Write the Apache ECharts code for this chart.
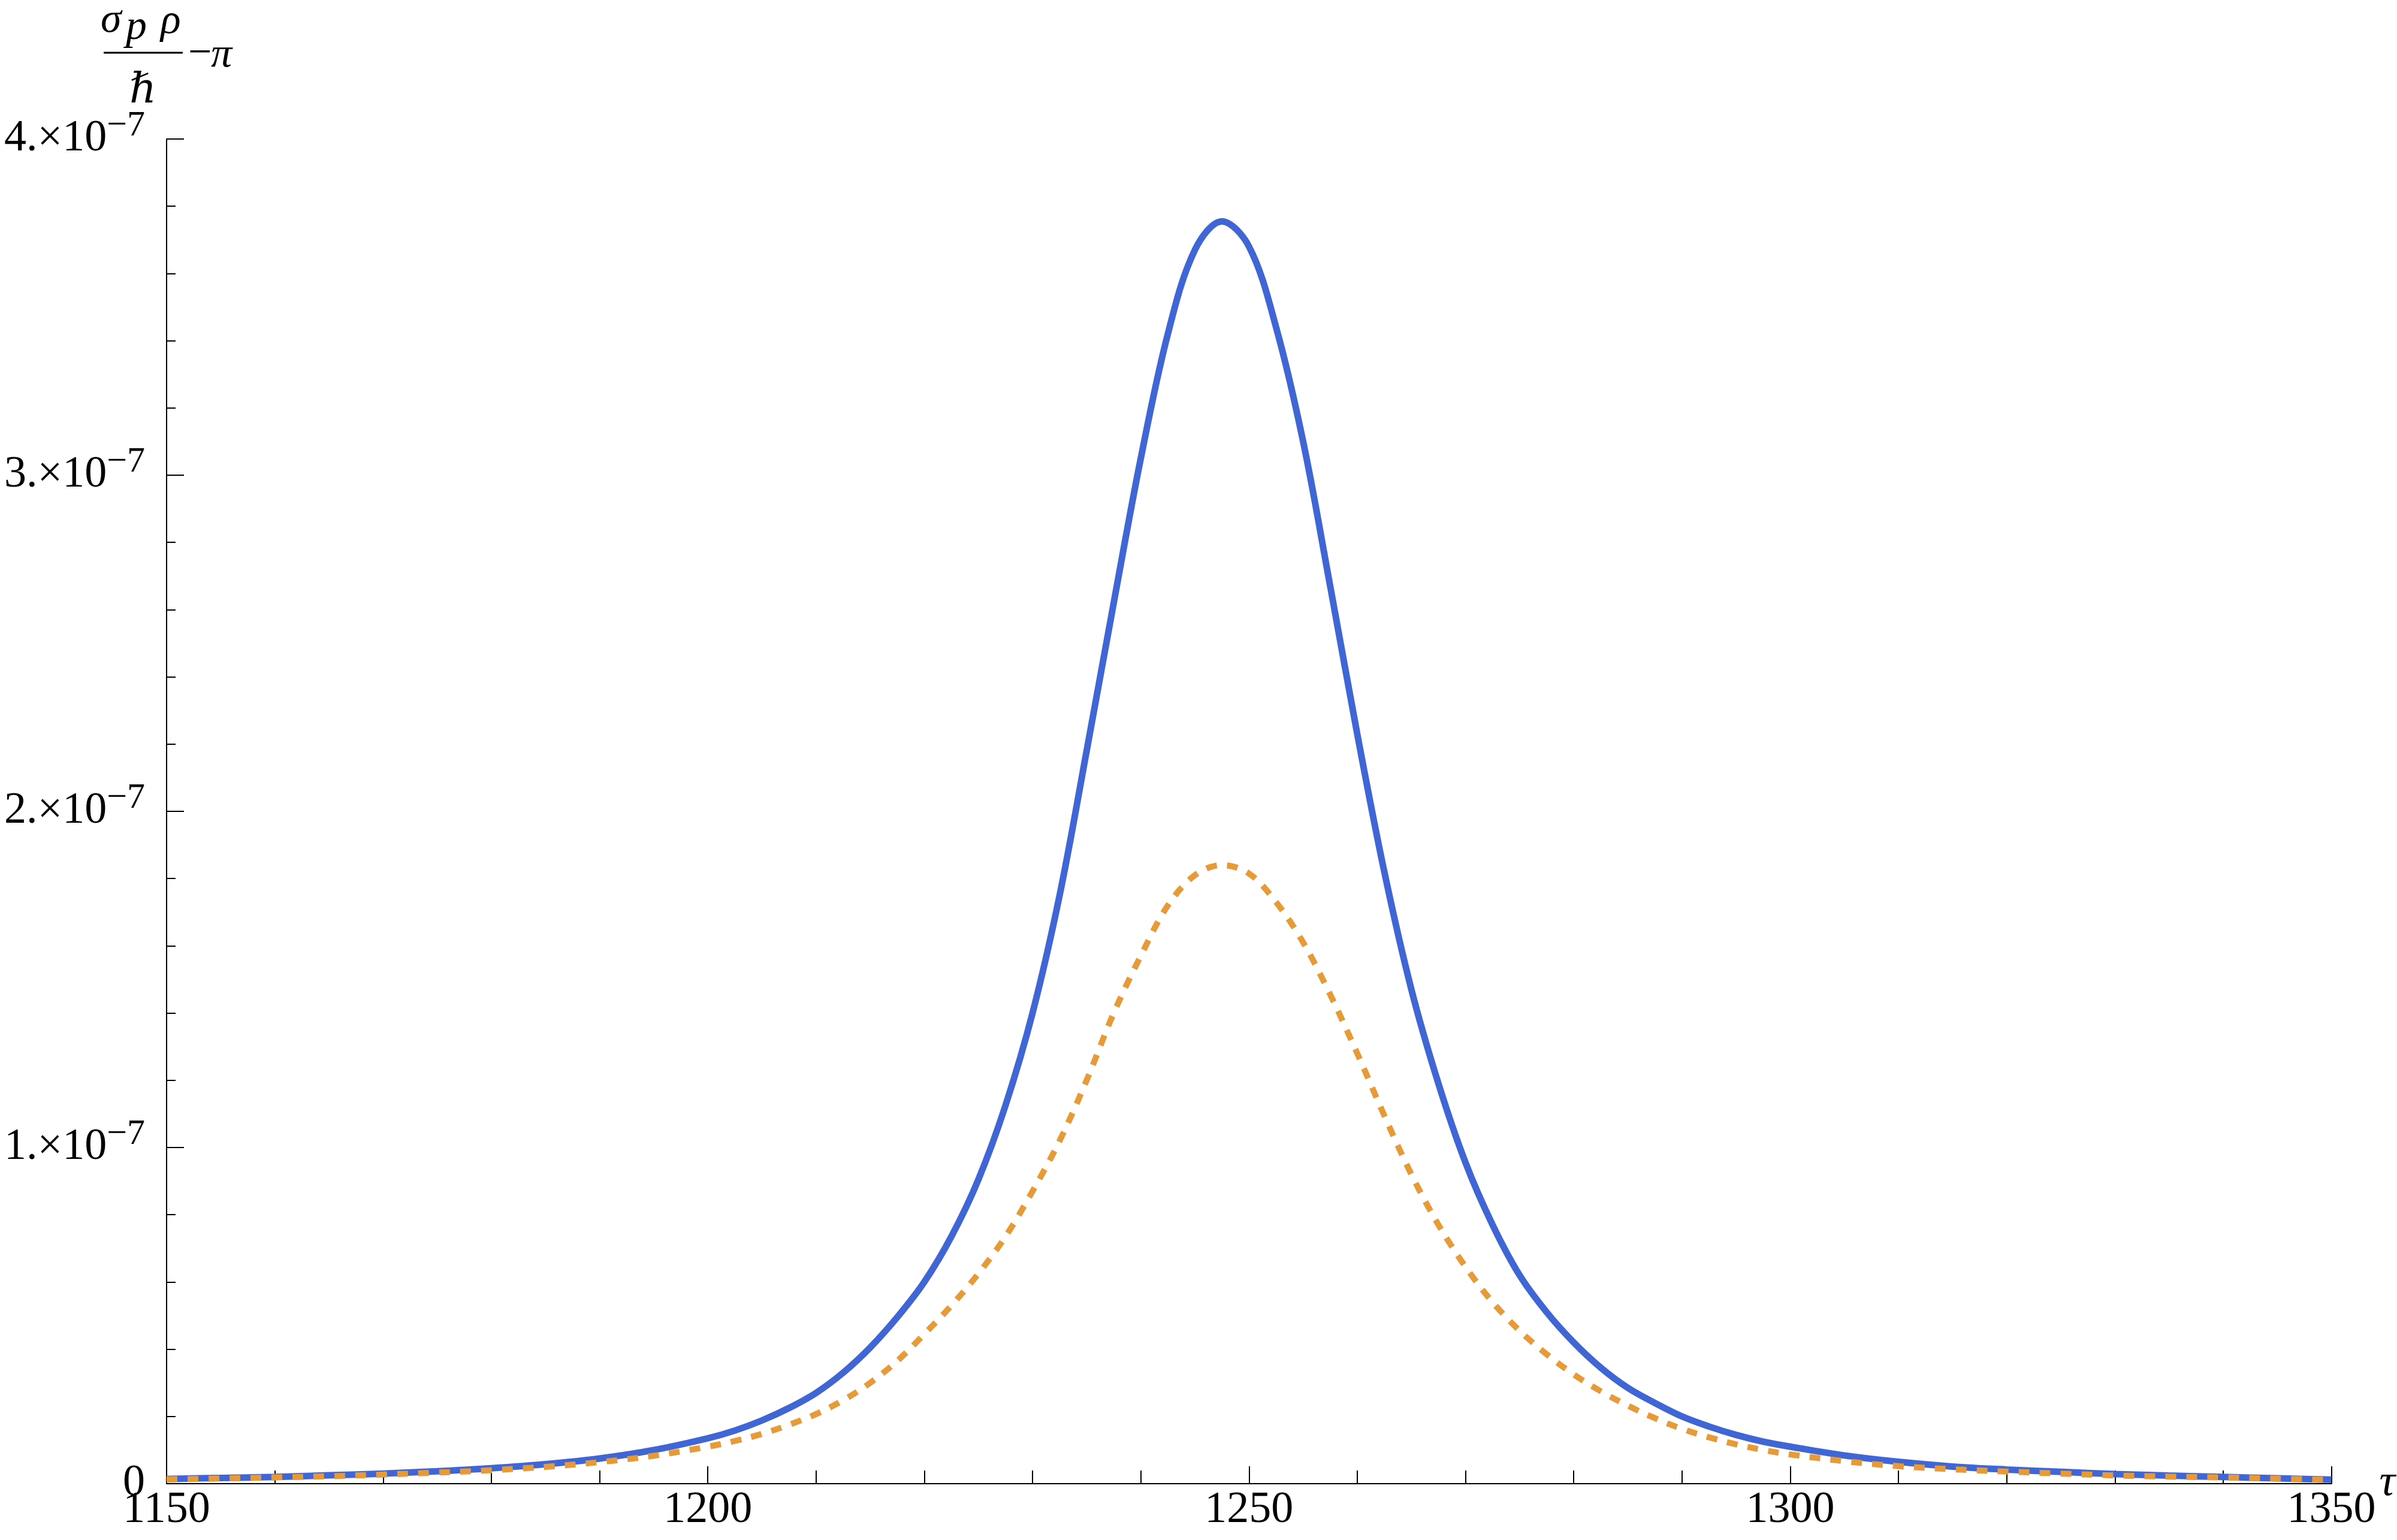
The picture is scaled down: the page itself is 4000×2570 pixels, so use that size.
<!DOCTYPE html>
<html>
<head>
<meta charset="utf-8">
<title>sigma_p rho / hbar - pi vs tau</title>
<script src="https://cdn.jsdelivr.net/npm/echarts@6/dist/echarts.min.js"></script>
<style>
  html, body { margin: 0; padding: 0; background: #fff; }
  #chart { width: 4000px; height: 2570px; }
</style>
</head>
<body>
<div id="chart"></div>
<script>
// tau samples (coarser in the flat tails)
const tau = [
  1150, 1155, 1160, 1165, 1170, 1175, 1180, 1185, 1190, 1195,
  1200, 1202.5, 1205, 1207.5, 1210, 1212.5, 1215, 1217.5, 1220, 1222.5,
  1225, 1227.5, 1230, 1232.5, 1235, 1237.5, 1240, 1242.5, 1245, 1247.5,
  1250, 1252.5, 1255, 1257.5, 1260, 1262.5, 1265, 1267.5, 1270, 1272.5,
  1275, 1277.5, 1280, 1282.5, 1285, 1287.5, 1290, 1292.5, 1295, 1297.5,
  1300, 1305, 1310, 1315, 1320, 1325, 1330, 1335, 1340, 1345, 1350
];

// solid blue curve, in units of 1e-7
const blueCurve = [
  0.014, 0.017, 0.020, 0.025, 0.030, 0.037, 0.046, 0.058, 0.075, 0.100,
  0.135, 0.158, 0.188, 0.225, 0.270, 0.330, 0.405, 0.495, 0.600, 0.735,
  0.905, 1.125, 1.400, 1.750, 2.180, 2.620, 3.050, 3.420, 3.670, 3.755,
  3.680, 3.440, 3.100, 2.670, 2.230, 1.820, 1.470, 1.190, 0.955, 0.770,
  0.620, 0.510, 0.420, 0.345, 0.285, 0.240, 0.200, 0.170, 0.145, 0.125,
  0.110, 0.084, 0.065, 0.051, 0.042, 0.035, 0.0285, 0.024, 0.020, 0.016, 0.012
];

// dotted orange curve, in units of 1e-7
const orangeCurve = [
  0.013, 0.0155, 0.0186, 0.022, 0.027, 0.033, 0.040, 0.050, 0.064, 0.083,
  0.110, 0.127, 0.148, 0.175, 0.207, 0.248, 0.300, 0.365, 0.445, 0.530,
  0.625, 0.735, 0.870, 1.020, 1.200, 1.400, 1.570, 1.720, 1.810, 1.840,
  1.815, 1.730, 1.610, 1.455, 1.280, 1.095, 0.920, 0.770, 0.645, 0.540,
  0.455, 0.385, 0.325, 0.275, 0.232, 0.195, 0.163, 0.138, 0.117, 0.100,
  0.087, 0.067, 0.052, 0.043, 0.036, 0.030, 0.0245, 0.021, 0.0186, 0.015, 0.011
];

const xTicks = [1150, 1200, 1250, 1300, 1350];
const yTicks = [0, 1, 2, 3, 4];

const serif = '"Liberation Serif", "DejaVu Serif", serif';
const blue = '#4065d4';
const orange = '#e69a38';

const chart = echarts.init(document.getElementById('chart'));

function toPairs(ys) {
  return tau.map((t, i) => [t, ys[i]]);
}

chart.setOption({
  backgroundColor: '#fff',
  animation: false,
  grid: { left: 278, right: 86, top: 232, bottom: 94 },
  xAxis: {
    type: 'value',
    min: xTicks[0],
    max: xTicks[xTicks.length - 1],
    interval: 50,
    name: 'τ',
    nameLocation: 'end',
    nameGap: 48,
    nameTextStyle: {
      fontFamily: serif, fontStyle: 'italic', fontSize: 74, color: '#000',
      padding: [0, 0, 36, 0]
    },
    axisLine: { lineStyle: { color: '#000', width: 2 } },
    axisTick: { inside: true, length: 29, lineStyle: { color: '#000', width: 2 } },
    minorTick: { show: true, splitNumber: 5, length: 22, lineStyle: { color: '#000', width: 2 } },
    splitLine: { show: false },
    axisLabel: {
      margin: 8,
      fontFamily: serif, fontSize: 74, color: '#000',
      formatter: v => String(v)
    }
  },
  yAxis: {
    type: 'value',
    min: yTicks[0],
    max: yTicks[yTicks.length - 1],
    interval: 1,
    axisLine: { show: true, lineStyle: { color: '#000', width: 2 } },
    axisTick: { show: true, inside: true, length: 29, lineStyle: { color: '#000', width: 2 } },
    minorTick: { show: true, splitNumber: 5, length: 15, lineStyle: { color: '#000', width: 2 } },
    splitLine: { show: false },
    axisLabel: {
      margin: 36,
      color: '#000',
      formatter: v => v === 0 ? '{m|0}' : '{m|' + v + '.×10}{s|−7}',
      rich: {
        m: { fontFamily: serif, fontSize: 74, lineHeight: 104, color: '#000' },
        s: { fontFamily: serif, fontSize: 60, verticalAlign: 'top', color: '#000' }
      }
    }
  },
  graphic: [
    { type: 'text', left: 168, top: 0, style: { text: 'σ', font: 'italic 70px ' + serif, fill: '#000' } },
    { type: 'text', left: 210, top: 12, style: { text: 'p', font: 'italic 70px ' + serif, fill: '#000' } },
    { type: 'text', left: 268, top: 2, style: { text: 'ρ', font: 'italic 70px ' + serif, fill: '#000' } },
    { type: 'line', shape: { x1: 173, y1: 88, x2: 305, y2: 88 }, style: { stroke: '#000', lineWidth: 3 } },
    { type: 'text', left: 314, top: 56, style: { text: '−', font: '70px ' + serif, fill: '#000' } },
    { type: 'text', left: 352, top: 58, style: { text: 'π', font: 'italic 70px ' + serif, fill: '#000' } },
    { type: 'text', left: 216, top: 118, style: { text: 'ℏ', font: 'italic 70px ' + serif, fill: '#000' } }
  ],
  series: [
    {
      type: 'line',
      data: toPairs(blueCurve),
      showSymbol: false,
      smooth: 0.35,
      lineStyle: { color: blue, width: 11 },
      z: 2
    },
    {
      type: 'line',
      data: toPairs(orangeCurve),
      showSymbol: false,
      smooth: 0.35,
      lineStyle: { color: orange, width: 10, type: [18, 17], cap: 'butt' },
      z: 3
    }
  ]
});
</script>
</body>
</html>
